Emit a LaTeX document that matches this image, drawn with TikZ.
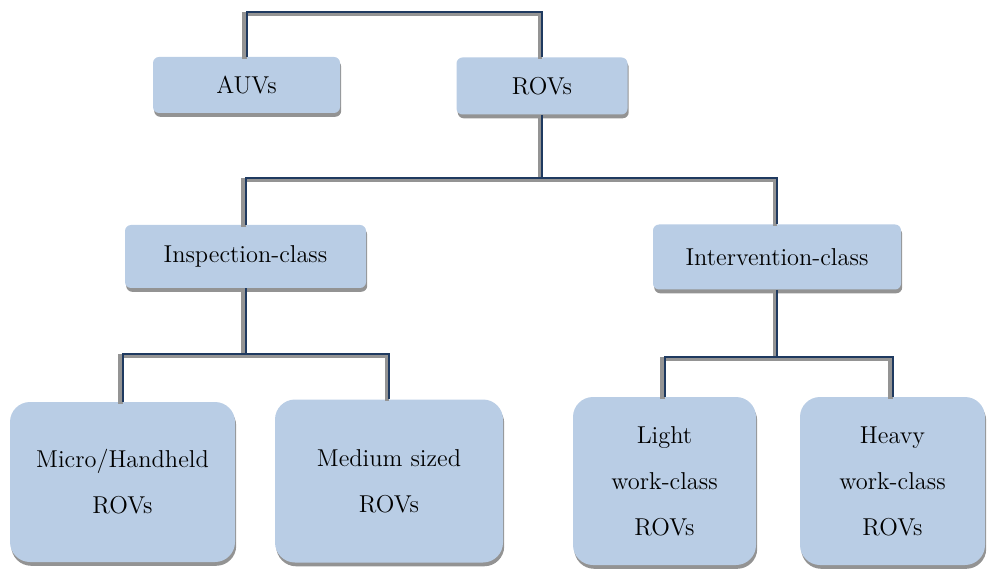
\documentclass[tikz,border=0pt]{standalone}
\usepackage{tikz}
\usetikzlibrary{shadows}

\definecolor{boxblue}{HTML}{B9CDE5}
\definecolor{linkblue}{HTML}{1F3A60}

\begin{document}
\begin{tikzpicture}[x=0.5pt,y=-0.5pt,
 every node/.style={font=\fontsize{12.2}{23}\selectfont},
 cat/.style={fill=boxblue,rounded corners=3pt,align=center,inner sep=0pt,
  drop shadow={shadow xshift=0.6pt,shadow yshift=-1.9pt,fill=black!50,opacity=0.85}},
 leaf/.style={cat,rounded corners=10pt},
 link/.style={draw=linkblue,line width=1pt,
  preaction={draw=black!42,line width=2.2pt,transform canvas={shift={(-1pt,-1pt)}}}}]
\useasboundingbox (0,0) rectangle (989,571);
\node[cat,minimum width=93.5pt,minimum height=28pt] (auv) at (246.5,85) {AUVs};
\node[cat,minimum width=85.5pt,minimum height=28.5pt] (rov) at (542,86) {ROVs};
\node[cat,minimum width=120.5pt,minimum height=31.5pt] (insp) at (245.5,256.5) {Inspection-class};
\node[cat,minimum width=124pt,minimum height=32.5pt] (interv) at (777,257) {Intervention-class};
\node[leaf,minimum width=112.5pt,minimum height=80pt] (micro) at (122.5,482) {Micro/Handheld\\ROVs};
\node[leaf,minimum width=114pt,minimum height=81.5pt] (medium) at (389,481) {Medium sized\\ROVs};
\node[leaf,minimum width=91.5pt,minimum height=84pt] (light) at (664.5,481) {Light\\work-class\\ROVs};
\node[leaf,minimum width=92.5pt,minimum height=84pt] (heavy) at (892.5,481) {Heavy\\work-class\\ROVs};
% branch points
\coordinate (top) at (394,12);
\coordinate (mid) at (542,178);
\coordinate (lowl) at (245.5,354);
\coordinate (lowr) at (777,357);
\draw[link] (auv.north) |- (top) -| (rov.north);
\draw[link] (rov.south) -- (mid);
\draw[link] (insp.north) |- (mid) -| (interv.north);
\draw[link] (insp.south) -- (lowl);
\draw[link] (micro.north) |- (lowl) -| (medium.north);
\draw[link] (interv.south) -- (lowr);
\draw[link] (light.north) |- (lowr) -| (heavy.north);
\end{tikzpicture}
\end{document}
